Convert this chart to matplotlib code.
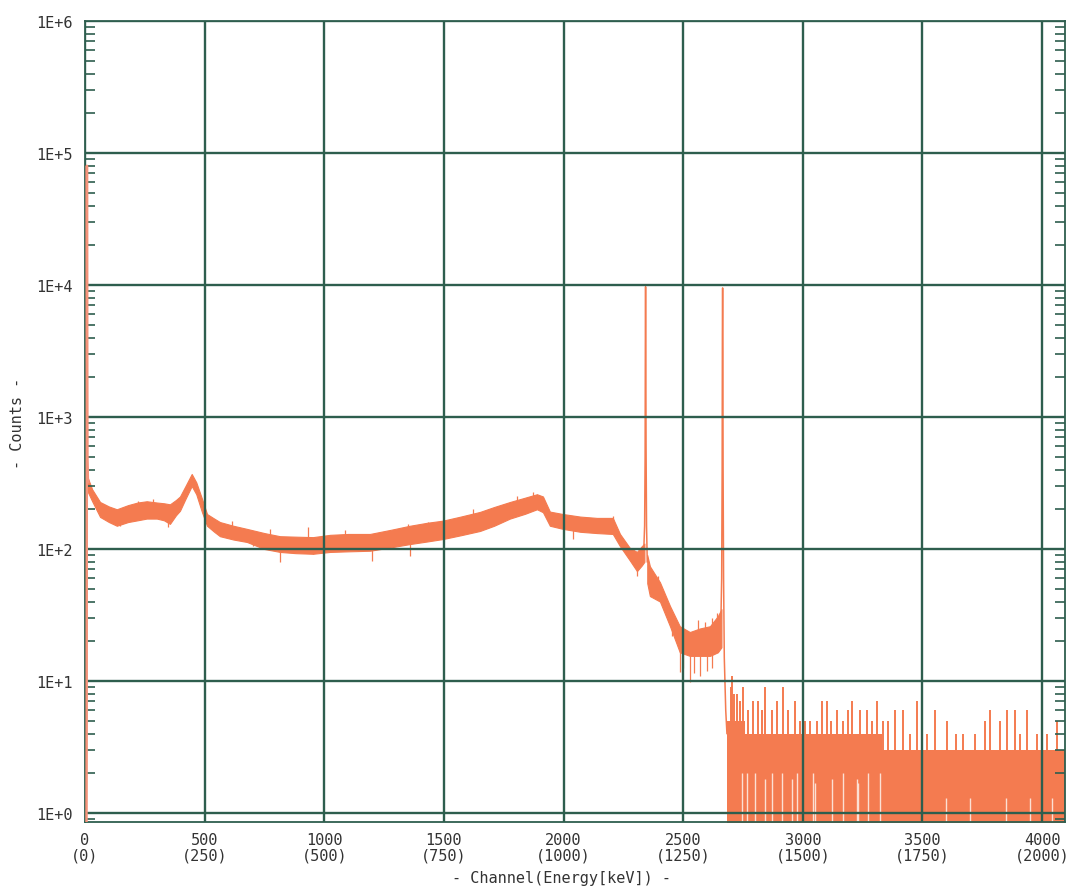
import numpy as np
import matplotlib
matplotlib.use('Agg')
import matplotlib.pyplot as plt
from matplotlib.ticker import FixedLocator, NullFormatter

# ---------------- data ----------------
# leading channels (detector edge spike)
lead_ch = [0, 1, 2, 3, 4, 6, 8]
lead_ct = [0, 5, 80000, 3000, 500, 340, 320]

# continuum noise band: channel, lower and upper envelope of counts
cont_ch = [8, 30, 63, 100, 133, 180, 220, 258, 300, 330, 355, 380, 397, 420,
           446, 465, 489, 510, 540, 564, 620, 677, 750, 815, 880, 953, 1024,
           1100, 1191, 1280, 1358, 1430, 1496, 1570, 1651, 1710, 1776, 1840,
           1889, 1914, 1943, 1998, 2070, 2140, 2206, 2236, 2277, 2307, 2327,
           2338]
cont_lo = [280, 230, 175, 160, 150, 160, 165, 170, 170, 165, 155, 180, 195,
           240, 300, 260, 190, 150, 135, 125, 118, 113, 100, 95, 93, 92, 95,
           96, 97, 103, 109, 114, 119, 127, 137, 150, 170, 185, 200, 190, 150,
           142, 135, 132, 130, 105, 82, 68, 75, 80]
cont_hi = [360, 283, 227, 210, 200, 215, 225, 230, 225, 222, 218, 235, 250,
           300, 370, 320, 240, 184, 170, 160, 150, 142, 132, 125, 124, 123,
           128, 130, 130, 140, 150, 158, 164, 176, 191, 208, 227, 245, 260,
           250, 192, 184, 176, 172, 172, 130, 102, 95, 105, 110]

# band between the two photopeaks
mid_ch = [2350, 2361, 2403, 2445, 2486, 2528, 2570, 2612, 2645, 2660]
mid_lo = [55, 44, 40, 26, 16.5, 15.5, 15.5, 15.5, 16.5, 18]
mid_hi = [90, 74, 56, 37, 26, 23.5, 25, 26, 31, 35]

# photopeaks (1173 keV and 1332 keV)
pk1_ch = [2336, 2339, 2341, 2342, 2343, 2344, 2345, 2347, 2350]
pk1_ct = [105, 150, 500, 3500, 9700, 3000, 600, 150, 80]
pk2_ch = [2658, 2661, 2663, 2664, 2665, 2666, 2667, 2669, 2672, 2678, 2683]
pk2_ct = [30, 60, 400, 4200, 9500, 3000, 400, 60, 15, 6, 4]

# single-channel excursions below / above the band
dip_ch = [146, 347, 702, 815, 953, 1200, 1358, 2040, 2307,
          2486, 2500, 2528, 2545, 2570, 2600, 2455, 2620]
dip_ct = [150, 147, 105, 80, 92, 81, 88, 119, 62,
          11.7, 12.5, 9.8, 11.5, 11, 12, 22, 12.5]
up_ch = [222, 285, 614, 773, 932, 1086, 1350, 1433, 1621, 1805, 1872, 2206,
         2590, 2620, 2640, 2560, 2395]
up_ct = [230, 240, 164, 142, 147, 140, 155, 160, 200, 250, 270, 178,
         28, 30, 33, 29, 62]

# tail above the 1332 keV peak: base level of the dense 0..N counts
tail_ch = [2683, 2760, 2760, 3330, 3330, 4096]
tail_hi = [5, 5, 4, 4, 3, 3]
spike_ch = [2698, 2704, 2712, 2725, 2738, 2750, 2770, 2791, 2812, 2828, 2842,
            2871, 2892, 2917, 2938, 2967, 2990, 3009, 3030, 3059, 3080, 3101,
            3120, 3143, 3168, 3190, 3205, 3239, 3268, 3290, 3310, 3335, 3356,
            3385, 3418, 3450, 3477, 3520, 3552, 3602, 3640, 3669, 3719, 3761,
            3782, 3824, 3853, 3886, 3910, 3936, 3978, 4020, 4062]
spike_ct = [9, 11, 8, 8, 7, 9, 6, 7, 7, 6, 9, 6, 7, 9, 6, 7, 5, 5, 5, 5, 7,
            7, 5, 6, 5, 6, 7, 6, 6, 5, 7, 5, 5, 6, 6, 4, 7, 4, 6, 5, 4, 4, 4,
            5, 6, 5, 6, 6, 4, 6, 4, 4, 5]
# channels in the tail where the trace stays low (light gaps)
gap_ch = [2745, 2766, 2800, 2842, 2871, 2913, 2954, 2975, 3042, 3122, 3168,
          3226, 3272, 3322, 3050, 3230, 3600, 3700, 3850, 3950, 4040]
gap_ct = [2, 2, 2, 1.8, 2, 2, 1.8, 2, 2, 1.8, 2, 1.8, 2, 2, 1.7, 1.7, 1.3,
          1.3, 1.3, 1.3, 1.3]

x_ticks = [0, 500, 1000, 1500, 2000, 2500, 3000, 3500, 4000]
energy = [0, 250, 500, 750, 1000, 1250, 1500, 1750, 2000]
y_ticks = [1e0, 1e1, 1e2, 1e3, 1e4, 1e5, 1e6]
y_labels = ['1E+0', '1E+1', '1E+2', '1E+3', '1E+4', '1E+5', '1E+6']

# ---------------- drawing ----------------
W, H = 1074, 887
fig = plt.figure(figsize=(W / 100, H / 100), dpi=100)
L, R, T, B = 85, 1065, 22, 823
ax = fig.add_axes([L / W, 1 - B / H, (R - L) / W, (B - T) / H])

col = '#F47B50'
gc = '#2E5E4E'
ymin = 10 ** (-9 / 132)
floor = 0.5

ax.set_yscale('log')
ax.set_xlim(0, 4096)
ax.set_ylim(ymin, 1e6)

lead_plot = np.clip(np.array(lead_ct, float), floor, None)
ax.plot(np.array(lead_ch) + 6, lead_plot, color='#F5937A', lw=1.8, zorder=3)

ax.fill_between(cont_ch, cont_lo, cont_hi, color=col, lw=0.8, ec=col, zorder=1)
ax.fill_between(mid_ch, mid_lo, mid_hi, color=col, lw=0.8, ec=col, zorder=1)
ax.plot(pk1_ch, pk1_ct, color=col, lw=1.1, zorder=2)
ax.plot(pk2_ch, pk2_ct, color=col, lw=1.1, zorder=2)

band_ch = cont_ch + mid_ch
band_lo = cont_lo + mid_lo
band_hi = cont_hi + mid_hi
for c, v in zip(dip_ch, dip_ct):
    lo = np.interp(c, band_ch, band_lo)
    ax.vlines(c, v, lo * 1.05, color=col, lw=0.9, zorder=2)
for c, v in zip(up_ch, up_ct):
    hi = np.interp(c, band_ch, band_hi)
    ax.vlines(c, hi * 0.95, v, color=col, lw=0.9, zorder=2)

# tail
ax.fill_between(tail_ch, floor, tail_hi, color=col, lw=0, zorder=1)
for c, v in zip(spike_ch, spike_ct):
    ax.vlines(c, floor, v, color=col, lw=1.4, zorder=2)
for c, v in zip(gap_ch, gap_ct):
    ax.vlines(c, floor, v, color='#FCE0D4', lw=1.0, zorder=2.1)

# grid & ticks
ax.set_axisbelow(False)
ax.xaxis.set_major_locator(FixedLocator(x_ticks))
ax.set_xticklabels([f'{c}\n({e})' for c, e in zip(x_ticks, energy)])
ax.yaxis.set_major_locator(FixedLocator(y_ticks))
ax.set_yticklabels(y_labels)
minor = [m * 10.0 ** d for d in range(-1, 6) for m in range(2, 10)]
ax.yaxis.set_minor_locator(FixedLocator(minor))
ax.yaxis.set_minor_formatter(NullFormatter())
ax.grid(True, which='major', color=gc, lw=1.7, zorder=2.5)
ax.tick_params(axis='both', which='major', length=0, pad=9,
               labelsize=11, labelcolor='#333333')
ax.tick_params(axis='x', which='major', pad=7)
ax.tick_params(axis='y', which='minor', direction='in', left=True, right=True,
               length=7, width=1.2, color=gc)
for lab in ax.get_xticklabels() + ax.get_yticklabels():
    lab.set_family('DejaVu Sans Mono')
for lab in ax.get_xticklabels():
    lab.set_linespacing(1.05)
for s in ax.spines.values():
    s.set_color(gc)
    s.set_linewidth(1.3)

fig.text(18 / W, 1 - 423 / H, '- Counts -', rotation=90, ha='center',
         va='center', fontsize=11, family='DejaVu Sans Mono', color='#333333')
fig.text(561 / W, 1 - 879 / H, '- Channel(Energy[keV]) -', ha='center',
         va='center', fontsize=11, family='DejaVu Sans Mono', color='#333333')

fig.savefig('out.png', dpi=100)
